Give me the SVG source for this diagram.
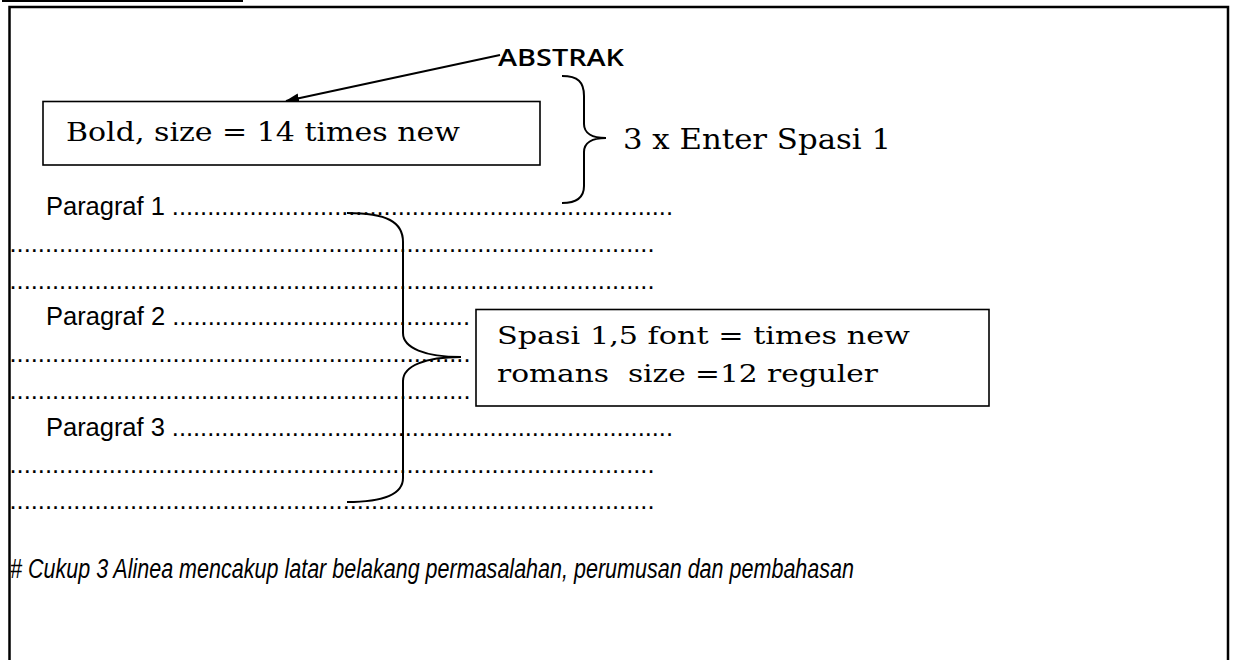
<svg xmlns="http://www.w3.org/2000/svg" width="1235" height="660" viewBox="0 0 1235 660">
<style>
.serif{font-family:"DejaVu Serif","Liberation Serif",serif;fill:#000}
.sans{font-family:"Liberation Sans",Arial,sans-serif;fill:#000}
.dots{font-family:"Liberation Sans",Arial,sans-serif;font-size:25.5px;fill:#000}
.box{fill:#fff;stroke:#000;stroke-width:1.6}
.conn{fill:none;stroke:#000;stroke-width:2}
</style>
<defs>
<marker id="ah" markerUnits="userSpaceOnUse" markerWidth="14" markerHeight="10" refX="13" refY="5" orient="auto">
<path d="M0,0 L14,5 L0,10 Z" fill="#000"/>
</marker>
</defs>
<rect width="1235" height="660" fill="#fff"/>
<line x1="2" y1="1" x2="243" y2="1" stroke="#000" stroke-width="2"/>
<path d="M9.5,670 L9.5,7 L1228,7 L1228,670" fill="none" stroke="#000" stroke-width="2.5"/>

<g id="paragraphs">
<text class="dots" x="46" y="215" textLength="627">Paragraf 1 .......................................................................</text>
<text class="dots" x="9.5" y="251.8" textLength="645">...........................................................................................</text>
<text class="dots" x="9.5" y="288.6" textLength="645">...........................................................................................</text>
<text class="dots" x="46" y="325.4" textLength="424">Paragraf 2 ..........................................</text>
<text class="dots" x="9.5" y="362.2" textLength="461">.................................................................</text>
<text class="dots" x="9.5" y="399" textLength="461">.................................................................</text>
<text class="dots" x="46" y="435.8" textLength="627">Paragraf 3 .......................................................................</text>
<text class="dots" x="9.5" y="472.6" textLength="645">...........................................................................................</text>
<text class="dots" x="9.5" y="509.4" textLength="645">...........................................................................................</text>
</g>

<g id="connectors">
<path class="conn" d="M500,55 L286,101" marker-end="url(#ah)"/>
<path class="conn" d="M562,76 C578,76 584,82 584,96 L584,124 C584,133 592,138 606,138 C592,138 584,143 584,152 L584,186 C584,198 576,203 562,203"/>
<path class="conn" d="M347,213 C387,213 403,222 403,242 L403,333 C403,348 425,357 461,357 C425,357 403,366 403,381 L403,478 C403,494 385,502 347,502"/>
</g>

<g id="title">
<text x="498" y="66" style="font-family:'Open Sans','DejaVu Sans',sans-serif" font-size="24" font-weight="600" fill="#000" textLength="126" lengthAdjust="spacingAndGlyphs">ABSTRAK</text>
</g>

<g id="box-bold">
<rect class="box" x="43" y="101.5" width="497" height="63.5"/>
<text class="serif" x="66" y="141" font-size="26" textLength="394" lengthAdjust="spacingAndGlyphs">Bold, size = 14 times new</text>
</g>

<g id="label-enter">
<text class="serif" x="623" y="149" font-size="27" textLength="268" lengthAdjust="spacingAndGlyphs">3 x Enter Spasi 1</text>
</g>

<g id="box-spasi">
<rect class="box" x="476" y="309.5" width="513" height="96.5"/>
<text class="serif" x="497" y="344" font-size="25" textLength="413" lengthAdjust="spacingAndGlyphs">Spasi 1,5 font = times new</text>
<text class="serif" x="497" y="382" font-size="25" textLength="381" lengthAdjust="spacingAndGlyphs" xml:space="preserve">romans  size =12 reguler</text>
</g>

<g id="note">
<text class="sans" x="10" y="578" font-size="27" font-style="italic" textLength="844" lengthAdjust="spacingAndGlyphs"># Cukup 3 Alinea mencakup latar belakang permasalahan, perumusan dan pembahasan</text>
</g>
</svg>
